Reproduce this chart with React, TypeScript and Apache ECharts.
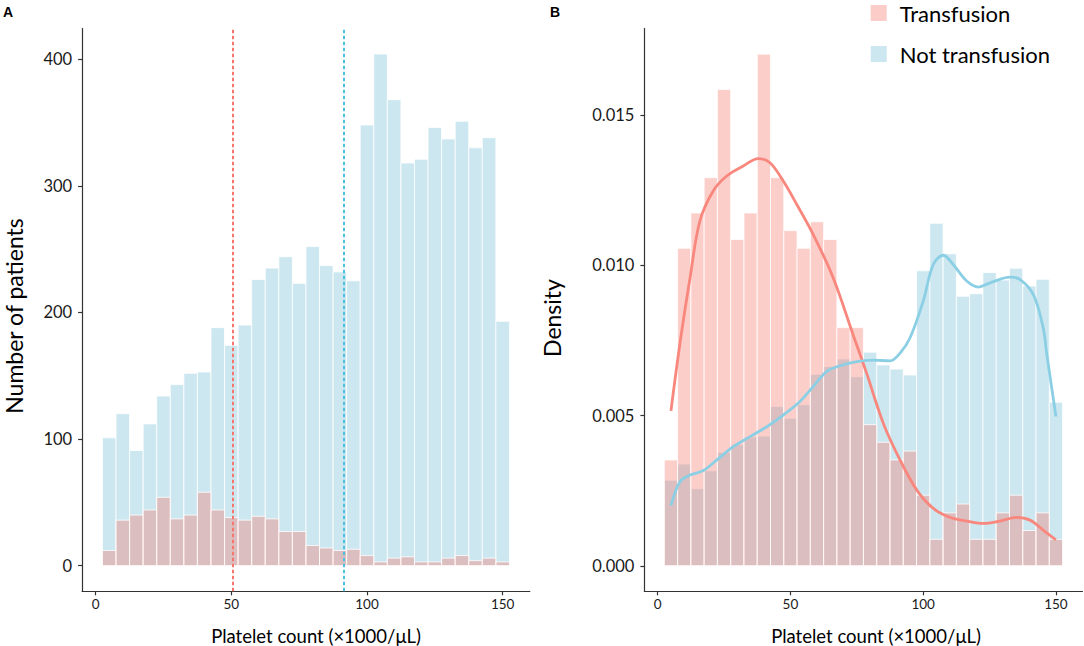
import React, { useEffect, useRef } from "react";
import * as echarts from "echarts";

// ---------- data ----------
const binCenters = [5, 10, 15, 20, 25, 30, 35, 40, 45, 50, 55, 60, 65, 70, 75, 80, 85, 90, 95, 100, 105, 110, 115, 120, 125, 130, 135, 140, 145, 150];
const binWidth = 5;

const countNotTransfusion = [101, 120, 91, 112, 134, 143, 152, 153, 188, 174, 190, 226, 235, 244, 223, 252, 237, 232, 225, 348, 404, 368, 318, 321, 346, 337, 351, 330, 338, 193];
const countTransfusion = [12, 36, 40, 44, 54, 37, 40, 58, 44, 38, 36, 39, 37, 27, 27, 16, 14, 12, 13, 8, 3, 6, 7, 3, 3, 6, 8, 4, 6, 3];

const densityNotTransfusion = [0.002851, 0.003387, 0.002568, 0.003161, 0.003782, 0.004036, 0.00429, 0.004318, 0.005306, 0.004911, 0.005363, 0.006379, 0.006633, 0.006887, 0.006294, 0.007113, 0.006689, 0.006548, 0.006351, 0.009822, 0.011403, 0.010387, 0.008975, 0.00906, 0.009766, 0.009512, 0.009907, 0.009314, 0.00954, 0.005447];
const densityTransfusion = [0.003524, 0.010573, 0.011747, 0.012922, 0.015859, 0.010866, 0.011747, 0.017034, 0.012922, 0.01116, 0.010573, 0.011454, 0.010866, 0.00793, 0.00793, 0.004699, 0.004112, 0.003524, 0.003818, 0.002349, 0.000881, 0.001762, 0.002056, 0.000881, 0.000881, 0.001762, 0.002349, 0.001175, 0.001762, 0.000881];

const kdeTransfusionX = [5, 8.4, 12.2, 15.9, 20.9, 26, 32.2, 37.9, 42.3, 47.3, 52.4, 58.6, 66.1, 73.7, 78.7, 85, 91.3, 97.6, 103.8, 110.1, 116.4, 122.6, 128.9, 135.2, 140.2, 145.2, 150];
const kdeTransfusionY = [0.00516, 0.00741, 0.00959, 0.01148, 0.01248, 0.01298, 0.01331, 0.01356, 0.01342, 0.01281, 0.01203, 0.01103, 0.00959, 0.00767, 0.00641, 0.00474, 0.00352, 0.00252, 0.00191, 0.00161, 0.00149, 0.00141, 0.00149, 0.00161, 0.00152, 0.00119, 0.00086];

const kdeNotTransfusionX = [5, 8.4, 12.2, 17.2, 22.2, 28.5, 34.8, 41.1, 47.3, 53.6, 58.6, 63.7, 68.7, 75, 81.2, 87.5, 91.3, 95.1, 100, 103.8, 107.6, 111.3, 116.4, 120.8, 125.2, 132.7, 136.5, 141.5, 145.2, 146.5, 150];
const kdeNotTransfusionY = [0.002, 0.0028, 0.00302, 0.00317, 0.00352, 0.00397, 0.0043, 0.00463, 0.00502, 0.00547, 0.00597, 0.00647, 0.00666, 0.0068, 0.00685, 0.00682, 0.00708, 0.0076, 0.00881, 0.01003, 0.01034, 0.01003, 0.00948, 0.00928, 0.00942, 0.00961, 0.00953, 0.00903, 0.00792, 0.00708, 0.00497];

const medianTransfusion = 50.5;
const medianNotTransfusion = 91.5;

const xTicks = [0, 50, 100, 150];
const yTicksA = [0, 100, 200, 300, 400];
const yTicksB = [0, 0.005, 0.01, 0.015];
const yTickLabelsB = ["0.000", "0.005", "0.010", "0.015"];
const legendNames = ["Transfusion", "Not transfusion"];

// ---------- styles ----------
const FONT = "Lato, 'Noto Sans', sans-serif";
const pinkFill = "rgba(248,118,109,0.36)";
const blueFill = "rgba(173,216,230,0.62)";
const pinkLegend = "#FCCCC9";
const blueLegend = "#CCE7F0";
const redLine = "#F8877D";
const blueLine = "#8BCFE5";
const axisColor = "#333333";

const makeHist = (fill: string) => (_params: any, api: any) => {
  const c = api.value(0);
  const v = api.value(1);
  const tl = api.coord([c - binWidth / 2, v]);
  const br = api.coord([c + binWidth / 2, 0]);
  return {
    type: "rect",
    shape: { x: tl[0], y: tl[1], width: br[0] - tl[0], height: br[1] - tl[1] },
    style: { fill, stroke: "#ffffff", lineWidth: 0.8 },
  };
};

const xAxisBase = (gridIndex: number) => ({
  type: "value",
  gridIndex,
  min: -5,
  max: 160,
  splitLine: { show: false },
  axisLine: { show: true, onZero: false, lineStyle: { color: axisColor, width: 1.2 } },
  axisTick: { show: true, length: 4, customValues: xTicks, lineStyle: { color: axisColor, width: 1.2 } },
  axisLabel: { customValues: xTicks, fontSize: 13.5, fontFamily: FONT, color: "#1a1a1a", margin: 6 },
});

const yAxisBase = (gridIndex: number, min: number, max: number, ticks: number[], fmt?: (v: number) => string) => ({
  type: "value",
  gridIndex,
  min,
  max,
  splitLine: { show: false },
  axisLine: { show: true, onZero: false, lineStyle: { color: axisColor, width: 1.2 } },
  axisTick: { show: true, length: 4, customValues: ticks, lineStyle: { color: axisColor, width: 1.2 } },
  axisLabel: {
    customValues: ticks,
    fontSize: 16.5,
    fontFamily: FONT,
    color: "#1a1a1a",
    margin: 10,
    formatter: fmt,
  },
});

const textEl = (text: string, x: number, y: number, font: string, rotation = 0, align = "center") => ({
  type: "text",
  x,
  y,
  rotation,
  style: {
    text,
    font,
    fill: "#000000",
    align,
    textAlign: align,
    verticalAlign: "middle",
    textVerticalAlign: "middle",
  },
});

export default function App() {
  const ref = useRef<HTMLDivElement>(null);

  useEffect(() => {
    if (!ref.current) return;
    const chart = echarts.init(ref.current, undefined, { renderer: "svg" });

    const option: any = {
      animation: false,
      backgroundColor: "#ffffff",
      grid: [
        { left: 82.1, top: 28.5, width: 447.7, height: 562.8 },
        { left: 644.4, top: 28.5, width: 438.1, height: 562.8 },
      ],
      xAxis: [xAxisBase(0), xAxisBase(1)],
      yAxis: [
        yAxisBase(0, -20.2, 424.2, yTicksA, (v: number) => String(v)),
        yAxisBase(1, -0.00085, 0.01789, yTicksB, (v: number) => {
          let best = 0;
          yTicksB.forEach((t, i) => {
            if (Math.abs(t - v) < Math.abs(yTicksB[best] - v)) best = i;
          });
          return yTickLabelsB[best];
        }),
      ],
      legend: {
        orient: "vertical",
        left: 870.7,
        top: 2,
        padding: 0,
        itemWidth: 16,
        itemHeight: 16,
        itemGap: 19,
        icon: "rect",
        selectedMode: false,
        textStyle: { fontSize: 22, fontFamily: FONT, color: "#000", lineHeight: 20, padding: [0, 0, 0, 8] },
        data: [
          { name: legendNames[0], itemStyle: { color: pinkLegend, borderWidth: 0 } },
          { name: legendNames[1], itemStyle: { color: blueLegend, borderWidth: 0 } },
        ],
      },
      graphic: [
        textEl("A", 3, 12, `bold 14px 'Liberation Sans', Arial, sans-serif`, 0, "left"),
        textEl("B", 550, 12, `bold 14px 'Liberation Sans', Arial, sans-serif`, 0, "left"),
        textEl("Number of patients", 13.5, 316, `23px ${FONT}`, Math.PI / 2),
        textEl("Density", 551.5, 318, `23px ${FONT}`, Math.PI / 2),
        textEl("Platelet count (×1000/μL)", 316, 636, `18.5px ${FONT}`),
        textEl("Platelet count (×1000/μL)", 876, 636, `18.5px ${FONT}`),
      ],
      series: [
        {
          name: "Not transfusion count",
          type: "custom",
          xAxisIndex: 0,
          yAxisIndex: 0,
          renderItem: makeHist(blueFill),
          itemStyle: { color: blueFill },
          data: binCenters.map((c, i) => [c, countNotTransfusion[i]]),
        },
        {
          name: "Transfusion count",
          type: "custom",
          xAxisIndex: 0,
          yAxisIndex: 0,
          renderItem: makeHist(pinkFill),
          itemStyle: { color: pinkFill },
          data: binCenters.map((c, i) => [c, countTransfusion[i]]),
        },
        {
          name: "Medians",
          type: "line",
          xAxisIndex: 0,
          yAxisIndex: 0,
          data: [],
          markLine: {
            silent: true,
            symbol: "none",
            label: { show: false },
            data: [
              { xAxis: medianTransfusion, lineStyle: { color: "#F8766D", type: [3.5, 2.5], width: 2 } },
              { xAxis: medianNotTransfusion, lineStyle: { color: "#4FC0DE", type: [3.5, 2.5], width: 2 } },
            ],
          },
        },
        {
          name: legendNames[1],
          type: "custom",
          xAxisIndex: 1,
          yAxisIndex: 1,
          renderItem: makeHist(blueFill),
          itemStyle: { color: blueLegend },
          data: binCenters.map((c, i) => [c, densityNotTransfusion[i]]),
        },
        {
          name: legendNames[0],
          type: "custom",
          xAxisIndex: 1,
          yAxisIndex: 1,
          renderItem: makeHist(pinkFill),
          itemStyle: { color: pinkLegend },
          data: binCenters.map((c, i) => [c, densityTransfusion[i]]),
        },
        {
          name: "KDE transfusion",
          type: "line",
          xAxisIndex: 1,
          yAxisIndex: 1,
          smooth: 0.35,
          showSymbol: false,
          symbol: "none",
          lineStyle: { color: redLine, width: 2.8 },
          itemStyle: { color: redLine },
          data: kdeTransfusionX.map((x, i) => [x, kdeTransfusionY[i]]),
        },
        {
          name: "KDE not transfusion",
          type: "line",
          xAxisIndex: 1,
          yAxisIndex: 1,
          smooth: 0.35,
          showSymbol: false,
          symbol: "none",
          lineStyle: { color: blueLine, width: 2.8 },
          itemStyle: { color: blueLine },
          data: kdeNotTransfusionX.map((x, i) => [x, kdeNotTransfusionY[i]]),
        },
      ],
    };

    chart.setOption(option);
    return () => chart.dispose();
  }, []);

  return (
    <div
      ref={ref}
      style={{ position: "absolute", left: 0, top: 0, width: 1084, height: 646, background: "#fff" }}
    />
  );
}
